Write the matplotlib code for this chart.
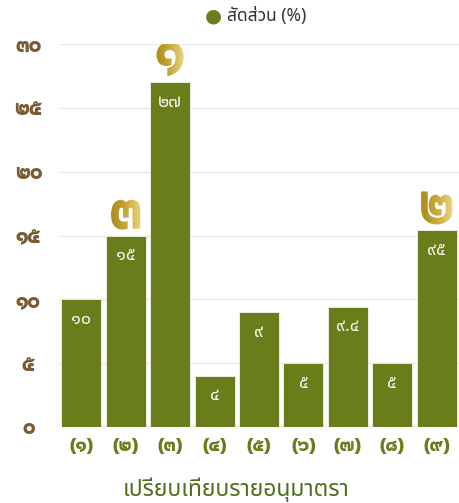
import numpy as np
import matplotlib
matplotlib.use("Agg")
import matplotlib.pyplot as plt
from matplotlib.textpath import TextPath
from matplotlib.patches import PathPatch
from matplotlib.font_manager import FontProperties
from matplotlib.colors import LinearSegmentedColormap
import matplotlib.transforms as mtransforms

# data
categories = ["(๑)", "(๒)", "(๓)", "(๔)", "(๕)", "(๖)", "(๗)", "(๘)", "(๙)"]
values = [10, 15, 27, 4, 9, 5, 9.4, 5, 15.4]
value_labels = ["๑๐", "๑๕", "๒๗", "๔", "๙", "๕", "๙.๔", "๕", "๙๕"]
yticks = [0, 5, 10, 15, 20, 25, 30]
ytick_labels = ["๐", "๕", "๑๐", "๑๕", "๒๐", "๒๕", "๓๐"]
ranks = {2: "๑", 8: "๒", 1: "๓"}
series_name = "สัดส่วน (%)"
title = "เปรียบเทียบรายอนุมาตรา"

bar_color = "#6a7d1b"
tick_brown = "#7a5c34"
bold_font = "Prompt"
text_font = "Noto Sans Thai"

fig = plt.figure(figsize=(4.59, 5.03), dpi=100)
ax = fig.add_axes([0.1285, 0.1511, 0.8715, 0.7614])

x = np.arange(len(categories))
ax.bar(x, values, width=0.9, color=bar_color, edgecolor="#f4f4ec", linewidth=0.6, zorder=2)
ax.set_xlim(-0.5, len(categories) - 0.5)
ax.set_ylim(0, 30)

for s in ax.spines.values():
    s.set_visible(False)
ax.grid(axis="y", color="#e8e8e8", linewidth=1, zorder=0)
ax.set_axisbelow(True)

ax.set_yticks(yticks)
ax.set_yticklabels(ytick_labels, family=bold_font, fontweight="bold", fontsize=15,
                   color=tick_brown, ha="center")
ax.tick_params(axis="y", length=0, pad=22)
ax.set_xticks(x)
ax.set_xticklabels(categories, family=bold_font, fontweight="bold", fontsize=13,
                   color=bar_color)
ax.tick_params(axis="x", length=0, pad=8)

# value labels inside bars
for xi, v, lab in zip(x, values, value_labels):
    ax.annotate(lab, (xi, v), xytext=(0, -14), textcoords="offset points",
                ha="center", va="center", family=text_font, fontsize=13,
                color="#f3f1e6", zorder=3)

# gold gradient rank numbers
gold = LinearSegmentedColormap.from_list("gold", ["#a8861a", "#c9a93a", "#f0dc90"])
fp = FontProperties(family=bold_font, weight="bold")

def gold_text(i, s, size=42, gap=6, xscale=0.85):
    tp = TextPath((0, 0), s, size=size, prop=fp)
    ext = tp.get_extents()
    px0, py0 = ax.transData.transform((i, values[i]))
    tr = (mtransforms.Affine2D()
          .translate(-(ext.x0 + ext.x1) / 2, -ext.y0)
          .scale(fig.dpi / 72 * xscale, fig.dpi / 72)
          .translate(px0, py0 + gap))
    patch = PathPatch(tp, transform=tr, facecolor="none", edgecolor="none")
    ax.add_patch(patch)
    patch.set_clip_on(False)
    (dx0, dy0), (dx1, dy1) = ax.transData.inverted().transform(
        tr.transform([[ext.x0 - 2, ext.y0 - 2], [ext.x1 + 2, ext.y1 + 2]]))
    grad = np.linspace(0, 1, 100).reshape(1, -1)
    im = ax.imshow(grad, cmap=gold, extent=[dx0, dx1, dy0, dy1], aspect="auto",
                   zorder=4, interpolation="bilinear")
    im.set_clip_path(patch)

for i, s in ranks.items():
    gold_text(i, s)
ax.set_xlim(-0.5, len(categories) - 0.5)
ax.set_ylim(0, 30)

# legend
fig.text(0.4641, 0.968, "●", ha="center", va="center", fontsize=14, color=bar_color,
         family="DejaVu Sans")
fig.text(0.4946, 0.968, series_name, ha="left", va="center", fontsize=12.5,
         color="#333333", family=text_font)

fig.text(0.514, 0.026, title, ha="center", va="center", fontsize=16.5,
         color="#4e6e1e", family=text_font)

fig.savefig("out.png", dpi=100)
